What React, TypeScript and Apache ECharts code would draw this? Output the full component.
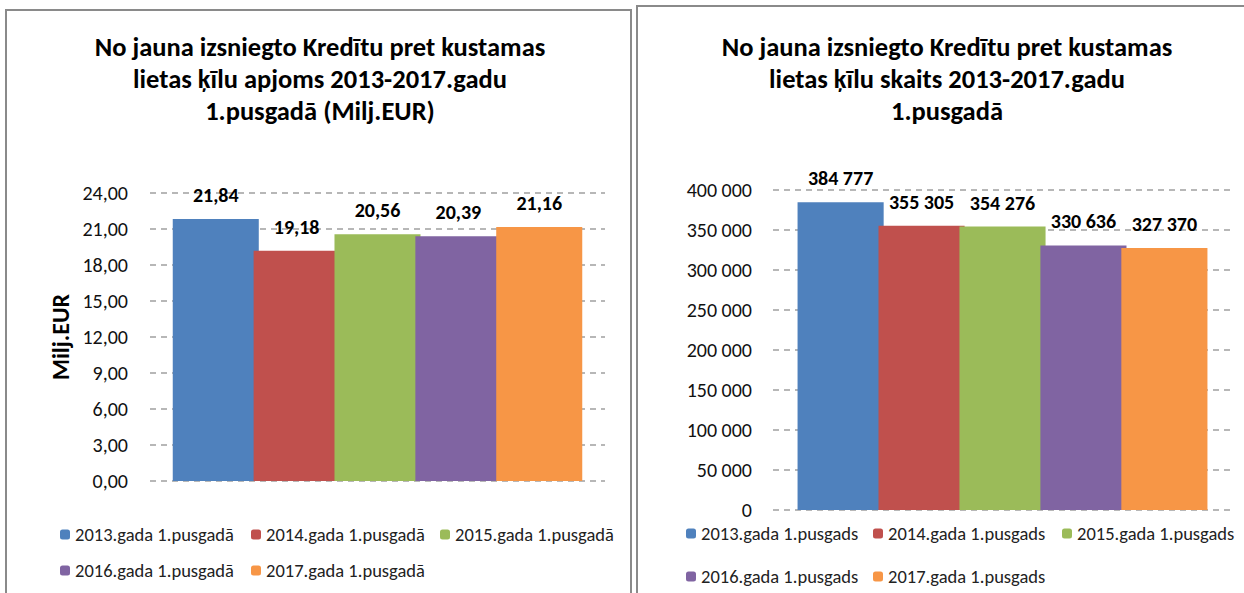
import React, { useEffect, useRef } from "react";
import * as echarts from "echarts";

const leftTitle = "No jauna izsniegto Kredītu pret kustamas\nlietas ķīlu apjoms 2013-2017.gadu\n1.pusgadā (Milj.EUR)";
const rightTitle = "No jauna izsniegto Kredītu pret kustamas\nlietas ķīlu skaits 2013-2017.gadu\n1.pusgadā";
const leftAxisTitle = "Milj.EUR";

const leftNames = [
  "2013.gada 1.pusgadā",
  "2014.gada 1.pusgadā",
  "2015.gada 1.pusgadā",
  "2016.gada 1.pusgadā",
  "2017.gada 1.pusgadā",
];
const rightNames = [
  "2013.gada 1.pusgads",
  "2014.gada 1.pusgads",
  "2015.gada 1.pusgads",
  "2016.gada 1.pusgads",
  "2017.gada 1.pusgads",
];
const leftValues = [21.84, 19.18, 20.56, 20.39, 21.16];
const rightValues = [384777, 355305, 354276, 330636, 327370];
const colors = ["#4F81BD", "#C0504D", "#9BBB59", "#8064A2", "#F79646"];

const FONT = "Carlito, Lato, 'Open Sans', sans-serif";

const fmtLeft = (v: number) => v.toFixed(2).replace(".", ",");
const fmtRight = (v: number) => String(Math.round(v)).replace(/\B(?=(\d{3})+(?!\d))/g, " ");

// legend item positions [left, top] per series index
const leftLegendPos = [
  [55, 520], [246, 520], [435, 520], [55, 556], [246, 556],
];
const rightLegendPos = [
  [681, 519], [868, 519], [1057, 519], [681, 562], [868, 562],
];

export default function App() {
  const ref = useRef<HTMLDivElement>(null);
  useEffect(() => {
    if (!ref.current) return;
    const chart = echarts.init(ref.current, null, { renderer: "svg" });
    const gridLine = { show: true, lineStyle: { color: "#A0A0A0", width: 1.6, type: [6, 5] as any } };
    const axisLabelStyle = { color: "#111", fontSize: 20, fontFamily: FONT };
    const legendText = { color: "#222", fontSize: 18.5, fontFamily: FONT };
    const legends: any[] = [];
    leftNames.forEach((n, i) => {
      legends.push({
        data: [n], left: leftLegendPos[i][0], top: leftLegendPos[i][1],
        itemWidth: 10, itemHeight: 10, itemGap: 5, textStyle: legendText,
      });
    });
    rightNames.forEach((n, i) => {
      legends.push({
        data: [n], left: rightLegendPos[i][0], top: rightLegendPos[i][1],
        itemWidth: 10, itemHeight: 10, itemGap: 5, textStyle: legendText,
      });
    });
    const series: any[] = [];
    leftNames.forEach((n, i) => {
      series.push({
        type: "bar", name: n, xAxisIndex: 0, yAxisIndex: 0,
        data: [leftValues[i]], itemStyle: { color: colors[i] },
        barGap: "-6%", barCategoryGap: "10%",
        label: {
          show: true, position: "top", distance: 14,
          formatter: (p: any) => fmtLeft(p.value),
          color: "#000", fontWeight: "bold", fontSize: 20, fontFamily: FONT,
        },
      });
    });
    rightNames.forEach((n, i) => {
      series.push({
        type: "bar", name: n, xAxisIndex: 1, yAxisIndex: 1,
        data: [rightValues[i]], itemStyle: { color: colors[i] },
        barGap: "-6%", barCategoryGap: "10.7%",
        label: {
          show: true, position: "top", distance: 14,
          formatter: (p: any) => fmtRight(p.value),
          color: "#000", fontWeight: "bold", fontSize: 20, fontFamily: FONT,
        },
      });
    });
    const titleStyle = { fontSize: 26.5, fontWeight: "bold", color: "#000", lineHeight: 32, fontFamily: FONT };
    chart.setOption({
      animation: false,
      backgroundColor: "#fff",
      title: [
        { text: leftTitle, left: 315, top: 26, textAlign: "center", textStyle: titleStyle },
        { text: rightTitle, left: 942, top: 26, textAlign: "center", textStyle: titleStyle },
      ],
      legend: legends,
      grid: [
        { left: 150, top: 193, width: 455, height: 288 },
        { left: 773, top: 190, width: 459, height: 320 },
      ],
      xAxis: [
        { type: "category", gridIndex: 0, data: [""], axisLine: { show: false }, axisTick: { show: false }, axisLabel: { show: false } },
        { type: "category", gridIndex: 1, data: [""], axisLine: { show: false }, axisTick: { show: false }, axisLabel: { show: false } },
      ],
      yAxis: [
        {
          type: "value", gridIndex: 0, min: 0, max: 24, interval: 3,
          axisLine: { show: false }, axisTick: { show: false }, splitLine: gridLine,
          axisLabel: { ...axisLabelStyle, margin: 22, formatter: (v: number) => fmtLeft(v) },
        },
        {
          type: "value", gridIndex: 1, min: 0, max: 400000, interval: 50000,
          axisLine: { show: false }, axisTick: { show: false }, splitLine: gridLine,
          axisLabel: { ...axisLabelStyle, margin: 21, formatter: (v: number) => fmtRight(v) },
        },
      ],
      graphic: [
        { type: "rect", shape: { x: 6, y: 10, width: 625, height: 600 }, style: { fill: "none", stroke: "#8a8a8a", lineWidth: 2 } },
        { type: "rect", shape: { x: 637, y: 6, width: 620, height: 600 }, style: { fill: "none", stroke: "#8a8a8a", lineWidth: 2 } },
        {
          type: "text", x: 60, y: 337, rotation: Math.PI / 2,
          style: { text: leftAxisTitle, fill: "#000", font: `bold 24px ${FONT}`, align: "center", verticalAlign: "middle" },
        },
      ],
      series,
    });
    return () => chart.dispose();
  }, []);
  return <div ref={ref} style={{ position: "absolute", left: 0, top: 0, width: 1244, height: 593 }} />;
}
